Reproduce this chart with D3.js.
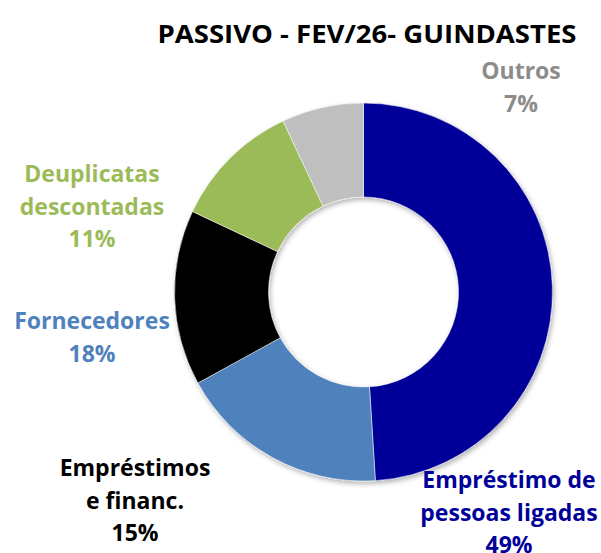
<!DOCTYPE html>
<html>
<head>
<meta charset="utf-8">
<script src="https://cdn.jsdelivr.net/npm/d3@7"></script>
<style>
  body { margin: 0; background: #fff; }
  svg { display: block; font-family: "Open Sans", "Lato", sans-serif; font-weight: bold; }
</style>
</head>
<body>
<div id="chart"></div>
<script>
// slices clockwise from 12 o'clock
const categories = ["Empréstimo de pessoas ligadas", "Fornecedores", "Empréstimos e financ.", "Deuplicatas descontadas", "Outros"];
const shares = [49, 18, 15, 11, 7];
const sliceColors = ["#000099", "#4F81BD", "#000000", "#9BBB59", "#BFBFBF"];
const labelColors = ["#000099", "#4F81BD", "#000000", "#9BBB59", "#8C8C8C"];
// label text split into lines, last line is the percent
const labelLines = [
  ["Empréstimo de", "pessoas ligadas"],
  ["Fornecedores"],
  ["Empréstimos", "e financ."],
  ["Deuplicatas", "descontadas"],
  ["Outros"]
];
// where each label block sits (center x, first baseline)
const labelPos = [[509, 488], [92, 329], [135, 476], [92, 182], [521, 79]];

const width = 601, height = 553;
const cx = 363.5, cy = 292, outerR = 189, innerR = 95;
const lineH = 32.5;

const svg = d3.select("#chart").append("svg")
  .attr("width", width)
  .attr("height", height);

const defs = svg.append("defs");
const f = defs.append("filter").attr("id", "shadow")
  .attr("x", "-10%").attr("y", "-10%").attr("width", "125%").attr("height", "125%");
f.append("feDropShadow")
  .attr("dx", 1.5).attr("dy", 2.5).attr("stdDeviation", 2.5)
  .attr("flood-color", "#000").attr("flood-opacity", 0.3);

svg.append("text")
  .attr("x", 367)
  .attr("y", 43)
  .attr("text-anchor", "middle")
  .style("font-size", "25px")
  .attr("textLength", 419)
  .attr("lengthAdjust", "spacingAndGlyphs")
  .style("fill", "#000")
  .text("PASSIVO - FEV/26- GUINDASTES");

const data = categories.map((c, i) => ({name: c, value: shares[i], i: i}));

const pie = d3.pie().sort(null).value(d => d.value);
const arc = d3.arc().innerRadius(innerR).outerRadius(outerR);

const g = svg.append("g")
  .attr("transform", "translate(" + cx + "," + cy + ")")
  .attr("filter", "url(#shadow)");

g.selectAll("path")
  .data(pie(data))
  .enter()
  .append("path")
    .attr("d", arc)
    .attr("fill", d => sliceColors[d.data.i])
    .attr("stroke", "#fff")
    .attr("stroke-width", 0.5);

const labels = svg.selectAll("text.lbl")
  .data(data)
  .enter()
  .append("text")
    .attr("class", "lbl")
    .attr("text-anchor", "middle")
    .style("font-size", "23px")
    .style("fill", d => labelColors[d.i]);

labels.each(function(d) {
  const t = d3.select(this);
  const lines = labelLines[d.i].concat([d.value + "%"]);
  lines.forEach((ln, k) => {
    t.append("tspan")
      .attr("x", labelPos[d.i][0])
      .attr("y", labelPos[d.i][1] + k * lineH)
      .text(ln);
  });
});
</script>
</body>
</html>
